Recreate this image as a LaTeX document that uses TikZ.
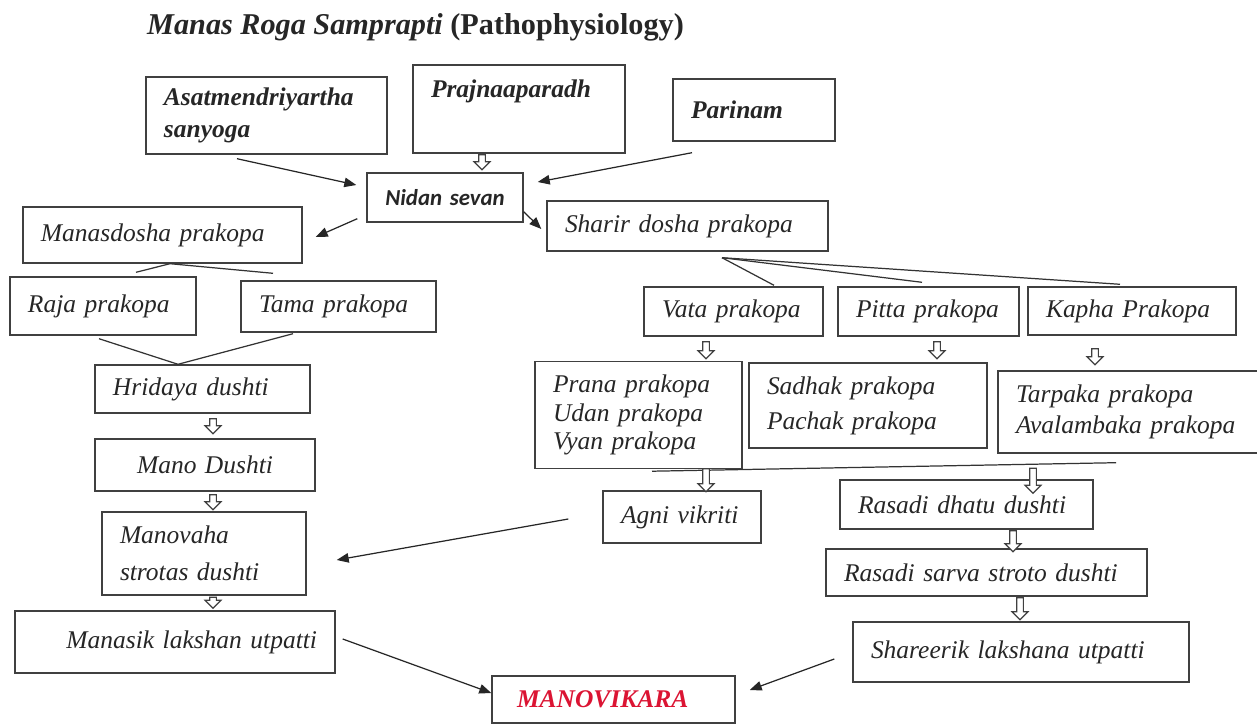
\documentclass[tikz,border=0pt]{standalone}
\usepackage{fontspec}
\setmainfont{Liberation Serif}
\newfontfamily\calibri{Carlito}
\usepackage{tikz}
\definecolor{boxgray}{rgb}{0.25,0.25,0.25}
\definecolor{vikarared}{rgb}{0.86,0.08,0.2}
\usetikzlibrary{arrows.meta}
\usetikzlibrary{shapes.arrows}

\begin{document}
\begin{tikzpicture}[x=0.2mm,y=-0.2mm,
    box/.style={draw=boxgray, line width=0.8pt, align=left, inner xsep=3.6mm, inner ysep=0pt,
        text=black!85, font=\fontsize{14.5}{18}\selectfont\itshape},
    bbox/.style={box, font=\fontsize{14.5}{18}\selectfont\bfseries\itshape},
    arr/.style={line width=0.7pt, draw=black!85, -{Triangle[length=2.4mm,width=1.9mm]}},
    ln/.style={line width=0.7pt, draw=black!80},
    darr/.style={single arrow, draw=boxgray, fill=white, line width=0.7pt, inner sep=0.55mm,
        single arrow head extend=0.9mm, shape border rotate=270}
]
\useasboundingbox (0,0) rectangle (1257,724);

\node[anchor=base west, text=black!85, font=\fontsize{17.2}{20}\selectfont\bfseries] (title) at (141,34)
    {\textit{Manas Roga Samprapti} (Pathophysiology)};

% causes
\node[bbox, text width=41mm, minimum height=15.4mm] (asat) at (266.5,115.5) {Asatmendriyartha\\sanyoga};
\node[bbox, text width=35.2mm, text height=6.4mm, text depth=11.2mm] (prajna) at (519,109) {Prajnaaparadh};
\node[bbox, text width=25.2mm, minimum height=12.4mm] (parinam) at (754,110) {Parinam};
\node[box, align=center, text width=24mm, minimum height=9.8mm,
    font=\fontsize{13}{15}\selectfont\calibri\bfseries\itshape] (nidan) at (445,197.5) {Nidan sevan};

% manas side
\node[box, text width=48.6mm, minimum height=11.2mm] (manasdosha) at (162.5,235) {Manasdosha prakopa};
\node[box, text width=30mm, minimum height=11.6mm] (raja) at (103,306) {Raja prakopa};
\node[box, text width=31.8mm, minimum height=10.2mm] (tama) at (338.5,306.5) {Tama prakopa};
\node[box, text width=35.8mm, minimum height=9.6mm] (hridaya) at (202.5,389) {Hridaya dushti};
\node[box, align=center, text width=36.8mm, minimum height=10.4mm] (mano) at (205,465) {Mano Dushti};
\node[box, text width=33.6mm, minimum height=16.6mm] (manovaha) at (204,553.5) {Manovaha\\[3pt]strotas dushti};
\node[box, align=right, text width=56.8mm, minimum height=12.4mm] (manasik) at (175,642) {Manasik lakshan utpatti};

% sharir side
\node[box, text width=49mm, minimum height=10mm] (sharir) at (687.5,226) {Sharir dosha prakopa};
\node[box, text width=28.6mm, minimum height=9.8mm] (vata) at (733.5,311.5) {Vata prakopa};
\node[box, text width=29mm, minimum height=9.8mm] (pitta) at (928.5,311.5) {Pitta prakopa};
\node[box, text width=34.4mm, minimum height=9.6mm] (kapha) at (1132,311) {Kapha Prakopa};
\node[box, text width=34.2mm, minimum height=21.4mm, font=\fontsize{14.5}{16}\selectfont\itshape] (prana) at (638.5,415)
    {Prana prakopa\\Udan prakopa\\Vyan prakopa};
\node[box, text width=40.4mm, minimum height=17mm] (sadhak) at (868,405.5) {Sadhak prakopa\\[2pt]Pachak prakopa};
\node[box, text width=45mm, minimum height=16.4mm] (tarpaka) at (1128.5,412) {Tarpaka prakopa\\Avalambaka prakopa};
\node[box, text width=24.4mm, minimum height=10.4mm] (agni) at (682,517) {Agni vikriti};
\node[box, text width=43.4mm, minimum height=9.8mm] (rdhatu) at (966.5,504.5) {Rasadi dhatu dushti};
\node[box, text width=57mm, minimum height=9.4mm] (rsarva) at (986.5,572.5) {Rasadi sarva stroto dushti};
\node[box, text width=60mm, minimum height=12mm] (shareerik) at (1021,652) {Shareerik lakshana utpatti};

\node[box, inner xsep=5mm, text width=38.6mm, minimum height=9.4mm, text=vikarared,
    font=\fontsize{14.5}{18}\selectfont\bfseries\itshape] (vikara) at (613.5,699.5) {MANOVIKARA};

% arrows
\draw[arr] ([shift={(-29.5,4)}]asat.south) -- ([shift={(-10,-12.5)}]nidan.west);
\draw[arr] ([shift={(-62,11)}]parinam.south) -- ([shift={(14,-15.5)}]nidan.east);
\draw[arr] ([shift={(-9,-4)}]nidan.south west) -- ([shift={(13,2)}]manasdosha.east);
\draw[arr] ([shift={(0,-11)}]nidan.south east) -- ([shift={(-5,3)}]sharir.west);
\draw[arr] ([shift={(-34,2)}]agni.west) -- ([shift={(30,6.5)}]manovaha.east);
\draw[arr] ([shift={(7,-3)}]manasik.east) -- ([shift={(0,-6.5)}]vikara.west);
\draw[arr] ([shift={(-18,7)}]shareerik.west) -- ([shift={(14,-9.5)}]vikara.east);

% branching lines
\coordinate (msplit) at ([shift={(7.5,0)}]manasdosha.south);
\draw[ln] ([shift={(33,-4)}]raja.north) -- (msplit) -- ([shift={(-65.5,-7)}]tama.north);
\coordinate (hjoin) at ([shift={(-24.5,0)}]hridaya.north);
\draw[ln] ([shift={(-4,3)}]raja.south) -- (hjoin) -- ([shift={(-45.5,1)}]tama.south);
\coordinate (ssplit) at ([shift={(34.5,6)}]sharir.south);
\draw[ln] (ssplit) -- ([shift={(40.5,-1)}]vata.north);
\draw[ln] (ssplit) -- ([shift={(-6.5,-4)}]pitta.north);
\draw[ln] (ssplit) -- ([shift={(-12,-2)}]kapha.north);
\draw[ln] ([shift={(13.5,2)}]prana.south) -- ([shift={(-12.5,9)}]tarpaka.south);

% hollow arrows
\node[darr, minimum height=3mm] (d1) at (482,160.5) {};
\node[darr, minimum height=3mm] (d2) at (213,424.5) {};
\node[darr, minimum height=3mm] (d3) at (213,500.5) {};
\node[darr, minimum height=2.2mm] (d4) at (213,601) {};
\node[darr, minimum height=3.4mm] (d5) at (706,348.5) {};
\node[darr, minimum height=3.4mm] (d6) at (937,348.5) {};
\node[darr, minimum height=3.2mm] (d7) at (1095,355) {};
\node[darr, minimum height=4.6mm] (d8) at (706,478.5) {};
\node[darr, minimum height=5mm] (d9) at (1033,479) {};
\node[darr, minimum height=4.2mm] (d10) at (1013,539.5) {};
\node[darr, minimum height=4.4mm] (d11) at (1020,607) {};
\end{tikzpicture}
\end{document}
